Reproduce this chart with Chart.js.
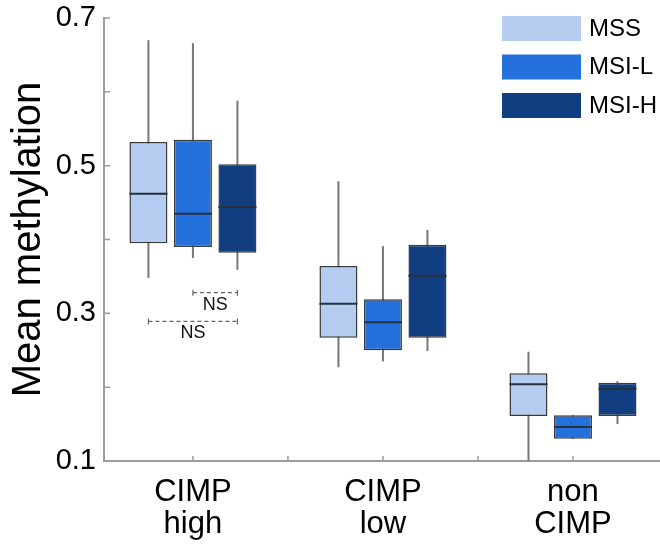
<!DOCTYPE html>
<html>
<head>
<meta charset="utf-8">
<title>Mean methylation by CIMP group</title>
<script src="https://cdn.jsdelivr.net/npm/chart.js@4.4.1/dist/chart.umd.min.js"></script>
<style>
  html, body { margin: 0; padding: 0; background: #fff; }
  .chartBox { position: relative; width: 660px; height: 547px; }
</style>
</head>
<body>
<div class="chartBox"><canvas id="boxChart"></canvas></div>
<script>
'use strict'

// groups on the x axis (linear positions 1, 2, 3)
const groupNames = ['CIMP high', 'CIMP low', 'non CIMP'];
const groupPositions = [1, 2, 3];
// x ticks (half steps) and their labels
const xTickValues = [1, 1.5, 2, 2.5, 3];
const xTickLabels = [['CIMP', 'high'], '', ['CIMP', 'low'], '', ['non', 'CIMP']];
// y ticks
const yTickValues = [0.1, 0.2, 0.3, 0.4, 0.5, 0.6, 0.7];
const yTickLabels = ['0.1', '', '0.3', '', '0.5', '', '0.7'];

// series
const seriesNames = ['MSS', 'MSI-L', 'MSI-H'];
const seriesColors = ['#b4ccf0', '#2470dc', '#113e80'];

// per group: [whisker low, q1, median, q3, whisker high]
const mssStats = [
  [0.348, 0.395, 0.462, 0.532, 0.670],
  [0.227, 0.267, 0.313, 0.364, 0.479],
  [0.100, 0.161, 0.204, 0.219, 0.248]
];
const msiLStats = [
  [0.375, 0.390, 0.435, 0.535, 0.666],
  [0.235, 0.250, 0.288, 0.319, 0.391],
  [0.130, 0.130, 0.146, 0.162, 0.162]
];
const msiHStats = [
  [0.359, 0.382, 0.444, 0.502, 0.588],
  [0.249, 0.267, 0.351, 0.393, 0.413],
  [0.150, 0.161, 0.198, 0.206, 0.208]
];
const seriesStats = [mssStats, msiLStats, msiHStats];

// "NS" comparison brackets (series index from/to inside a group)
const nsBrackets = [
  { group: 0, from: 1, to: 2, level: 0.328 },
  { group: 0, from: 0, to: 2, level: 0.289 }
];

const fontFamily = '"Liberation Sans", Arial, Helvetica, sans-serif';
const axisColor = '#9c9c9c';

//==================================================================================================

// whisker lines behind the boxes
function drawWhiskers(chart){
	const ctx = chart.ctx;
	const yScale = chart.scales.y;
	ctx.save();
	ctx.strokeStyle = '#777';
	ctx.lineWidth = 2;
	seriesStats.forEach((stats, d) => {
		chart.getDatasetMeta(d).data.forEach((bar, i) => {
			ctx.beginPath();
			ctx.moveTo(bar.x, yScale.getPixelForValue(stats[i][0]));
			ctx.lineTo(bar.x, yScale.getPixelForValue(stats[i][4]));
			ctx.stroke();
		});
	});
	ctx.restore();
}

// median line across each box
function drawMedians(chart){
	const ctx = chart.ctx;
	const yScale = chart.scales.y;
	ctx.save();
	ctx.strokeStyle = '#26303e';
	ctx.lineWidth = 2;
	seriesStats.forEach((stats, d) => {
		chart.getDatasetMeta(d).data.forEach((bar, i) => {
			const y = yScale.getPixelForValue(stats[i][2]);
			ctx.beginPath();
			ctx.moveTo(bar.x - bar.width / 2, y);
			ctx.lineTo(bar.x + bar.width / 2, y);
			ctx.stroke();
		});
	});
	ctx.restore();
}

// dashed brackets with NS labels
function drawNsBrackets(chart){
	const ctx = chart.ctx;
	const yScale = chart.scales.y;
	ctx.save();
	ctx.strokeStyle = '#666';
	ctx.fillStyle = '#111';
	ctx.lineWidth = 1.2;
	ctx.font = '18px ' + fontFamily;
	ctx.textAlign = 'center';
	ctx.textBaseline = 'middle';
	nsBrackets.forEach((item) => {
		const x1 = chart.getDatasetMeta(item.from).data[item.group].x;
		const x2 = chart.getDatasetMeta(item.to).data[item.group].x;
		const y = yScale.getPixelForValue(item.level);
		ctx.setLineDash([4, 3]);
		ctx.beginPath();
		ctx.moveTo(x1, y);
		ctx.lineTo(x2, y);
		ctx.stroke();
		ctx.setLineDash([]);
		ctx.beginPath();
		ctx.moveTo(x1, y - 3);
		ctx.lineTo(x1, y + 3);
		ctx.moveTo(x2, y - 3);
		ctx.lineTo(x2, y + 3);
		ctx.stroke();
		ctx.fillText('NS', (x1 + x2) / 2, y + 12);
	});
	ctx.restore();
}

// tick marks pointing into the plot
function drawInnerTicks(chart){
	const ctx = chart.ctx;
	const area = chart.chartArea;
	const xScale = chart.scales.x;
	const yScale = chart.scales.y;
	ctx.save();
	ctx.strokeStyle = axisColor;
	ctx.lineWidth = 1.5;
	ctx.beginPath();
	xScale.ticks.forEach((t, i) => {
		const x = xScale.getPixelForTick(i);
		ctx.moveTo(x, area.bottom);
		ctx.lineTo(x, area.bottom - 5);
	});
	yScale.ticks.forEach((t, i) => {
		const y = yScale.getPixelForTick(i);
		ctx.moveTo(area.left, y);
		ctx.lineTo(area.left + 6, y);
	});
	ctx.stroke();
	ctx.restore();
}

// legend in the top right corner of the plot
function drawLegend(chart){
	const ctx = chart.ctx;
	const right = chart.chartArea.right;
	ctx.save();
	ctx.font = '24px ' + fontFamily;
	ctx.textAlign = 'left';
	ctx.textBaseline = 'middle';
	chart.data.datasets.forEach((ds, d) => {
		const top = 16 + d * 38.5;
		ctx.fillStyle = ds.backgroundColor;
		ctx.fillRect(right - 158, top, 79, 25);
		ctx.fillStyle = '#000';
		ctx.fillText(ds.label, right - 71, top + 13);
	});
	ctx.restore();
}

const boxPlotExtras = {
	id: 'boxPlotExtras',
	beforeDatasetsDraw(chart){ drawWhiskers(chart); },
	afterDatasetsDraw(chart){
		drawMedians(chart);
		drawNsBrackets(chart);
	},
	afterDraw(chart){
		drawInnerTicks(chart);
		drawLegend(chart);
	}
};

//==================================================================================================

new Chart(document.getElementById('boxChart'), {
	type: 'bar',
	data: {
		datasets: seriesNames.map((name, d) => ({
			label: name,
			data: groupPositions.map((x, i) => ({ x: x, y: [seriesStats[d][i][1], seriesStats[d][i][3]] })),
			backgroundColor: seriesColors[d],
			borderColor: '#3a3a3a',
			borderWidth: 1.5,
			borderSkipped: false,
			categoryPercentage: 1.405,
			barPercentage: 0.854
		}))
	},
	options: {
		responsive: true,
		maintainAspectRatio: false,
		animation: false,
		layout: { padding: { top: 18, right: 0, bottom: 0, left: 0 } },
		plugins: {
			legend: { display: false },
			tooltip: { enabled: false }
		},
		scales: {
			x: {
				type: 'linear',
				offset: false,
				bounds: 'data',
				min: 0.532,
				max: 3.458,
				afterBuildTicks: (scale) => { scale.ticks = xTickValues.map(v => ({ value: v })); },
				afterFit: (scale) => {
					scale.height = 86;
					scale.paddingLeft = 0;
					scale.paddingRight = 0;
				},
				grid: { display: false, drawTicks: false, offset: false },
				border: { display: true, color: axisColor, width: 2 },
				ticks: {
					autoSkip: false,
					maxRotation: 0,
					padding: 15,
					color: '#000',
					font: { family: fontFamily, size: 31, lineHeight: 1.05 },
					callback: (value, index) => xTickLabels[index]
				}
			},
			y: {
				min: 0.1,
				max: 0.7,
				afterBuildTicks: (scale) => { scale.ticks = yTickValues.map(v => ({ value: v })); },
				afterFit: (scale) => {
					scale.width = 104;
					scale.paddingTop = 0;
					scale.paddingBottom = 0;
				},
				grid: { display: false, drawTicks: false },
				border: { display: true, color: axisColor, width: 2 },
				ticks: {
					padding: 8,
					color: '#000',
					font: { family: fontFamily, size: 29 },
					callback: (value, index) => yTickLabels[index]
				},
				title: {
					display: true,
					text: 'Mean methylation',
					color: '#000',
					font: { family: fontFamily, size: 40 },
					padding: { top: 5, bottom: 0 }
				}
			}
		}
	},
	plugins: [boxPlotExtras]
});
</script>
</body>
</html>
